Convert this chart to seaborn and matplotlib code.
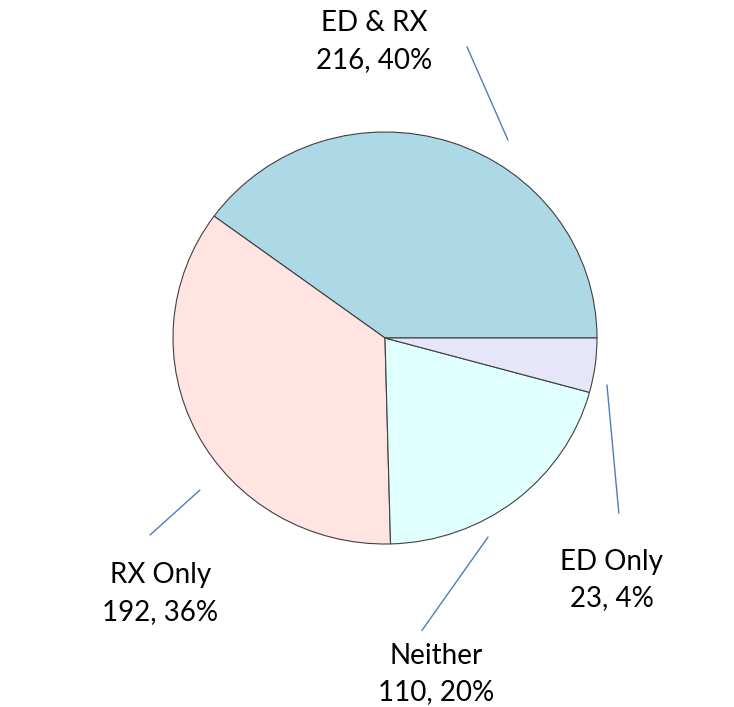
import matplotlib
matplotlib.use('Agg')
import matplotlib.pyplot as plt
import seaborn as sns

# data
groups = ['ED & RX', 'RX Only', 'Neither', 'ED Only']
counts = [216, 192, 110, 23]
percents = [40, 36, 20, 4]
colors = ['#ADD8E6', '#FFE4E1', '#E0FFFF', '#E6E6FA']

# label layout (pie radius = 1)
label_pos = [(-0.05, 1.44), (-1.06, -1.24), (0.24, -1.63), (1.07, -1.175)]
leader_lines = [((0.387, 1.413), (0.580, 0.961)),
                ((-0.873, -0.738), (-1.108, -0.956)),
                ((0.486, -0.966), (0.174, -1.42)),
                ((1.047, -0.228), (1.103, -0.850))]

sns.set_style('white')
plt.rcParams['font.family'] = ['Lato', 'DejaVu Sans']

fig = plt.figure(figsize=(7.34, 7.07), dpi=100)
ax = fig.add_axes([0, 0, 1, 1])

ax.pie(counts, colors=colors, startangle=0, counterclock=True,
       wedgeprops={'edgecolor': '#404040', 'linewidth': 0.8})

for g, c, p, pos in zip(groups, counts, percents, label_pos):
    ax.text(pos[0], pos[1], f'{g}\n{c}, {p}%', ha='center', va='center',
            fontsize=20, linespacing=1.5, color='black')

for (x0, y0), (x1, y1) in leader_lines:
    ax.plot([x0, x1], [y0, y1], color='#4A7EBB', linewidth=1.0)

ax.set_aspect('auto')
ax.set_xlim(-385 / 212, 349 / 212)
ax.set_ylim(-369 / 206, 338 / 206)
ax.axis('off')

fig.savefig('out.png', dpi=100)
